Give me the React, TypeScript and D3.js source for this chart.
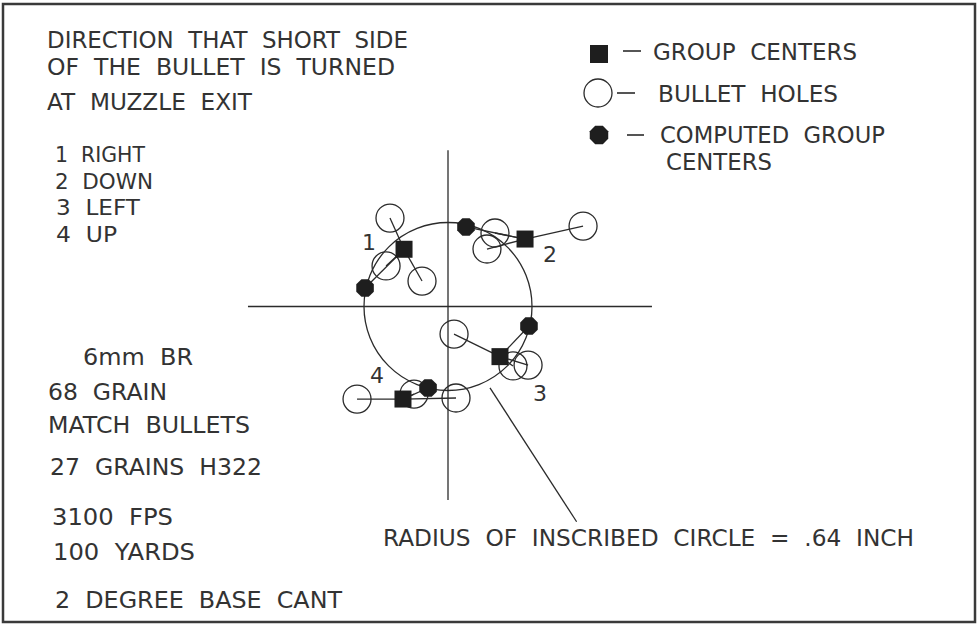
import * as d3 from "d3";

// group numbers (direction of short side at muzzle exit)
const groupIds = ["1", "2", "3", "4"];
// group centres, inches from aim point
const groupCenterX = [-0.335, 0.587, 0.396, -0.343];
const groupCenterY = [0.436, 0.514, -0.382, -0.705];
// computed group centres (on inscribed circle)
const computedX = [-0.632, 0.137, 0.617, -0.152];
const computedY = [0.141, 0.606, -0.149, -0.621];
// bullet holes per group, inches
const holesX = [
  [-0.442, -0.472, -0.198],
  [0.358, 0.297, 1.029],
  [0.046, 0.495, 0.61],
  [-0.693, -0.259, 0.061],
];
const holesY = [
  [0.674, 0.309, 0.194],
  [0.56, 0.438, 0.613],
  [-0.21, -0.453, -0.446],
  [-0.705, -0.667, -0.697],
];
const inscribedRadius = 0.64;

const headerLines = ["DIRECTION  THAT  SHORT  SIDE", "OF  THE  BULLET  IS  TURNED", "AT  MUZZLE  EXIT"];
const directionLines = ["1  RIGHT", "2  DOWN", "3  LEFT", "4  UP"];
const loadLines = ["6mm  BR", "68  GRAIN", "MATCH  BULLETS", "27  GRAINS  H322", "3100  FPS", "100  YARDS", "2  DEGREE  BASE  CANT"];
const legendLabels = ["GROUP  CENTERS", "BULLET  HOLES", "COMPUTED  GROUP", "CENTERS"];
const radiusNote = "RADIUS  OF  INSCRIBED  CIRCLE  =  .64  INCH";

const W = 978, H = 626;
const INK = "#2b2b2b";
const FONT = "'DejaVu Sans', sans-serif";
const PX_PER_INCH = 131.25;
const ORIGIN = { x: 448, y: 306.5 };

// layout of text lines: [x, baseline, width]
const headerLayout = [[47, 48, 361], [47, 75, 348], [47, 110, 205]];
const directionLayout = [[55, 162, 90], [55, 189, 98], [56, 215, 84], [56, 242, 61]];
const loadLayout = [[83, 365, 110], [48, 400, 119], [48, 433, 202], [50, 475, 212], [52, 525, 121], [53, 560, 142], [55, 608, 287]];
const legendLayout = [[653, 60, 204], [658, 102, 180], [660, 143, 225], [666, 170, 106]];
const labelOffset = [[-0.602, 0.43], [0.777, 0.339], [0.701, -0.72], [-0.541, -0.583]];

const octagon = (cx: number, cy: number, r: number) =>
  d3.range(8).map((i) => {
    const a = (Math.PI / 8) + (i * Math.PI) / 4;
    return [cx + r * Math.cos(a), cy + r * Math.sin(a)].join(",");
  }).join(" ");

const TextLine = ({ t, l, size = 23 }: { t: string; l: number[]; size?: number }) => (
  <text x={l[0]} y={l[1]} textLength={l[2]} lengthAdjust="spacingAndGlyphs"
    style={{ whiteSpace: "pre" }} fontFamily={FONT} fontSize={size} fill="#333">{t}</text>
);

export default function App() {
  const x = d3.scaleLinear().domain([0, 1]).range([ORIGIN.x, ORIGIN.x + PX_PER_INCH]);
  const y = d3.scaleLinear().domain([0, 1]).range([ORIGIN.y, ORIGIN.y - PX_PER_INCH]);
  const rPx = x(inscribedRadius) - x(0);

  const groups = groupIds.map((id, g) => {
    const sx = x(groupCenterX[g]), sy = y(groupCenterY[g]);
    const cx = x(computedX[g]), cy = y(computedY[g]);
    return (
      <g key={id}>
        <line x1={sx} y1={sy} x2={cx} y2={cy} stroke={INK} strokeWidth={1.3} />
        {holesX[g].map((hx, i) => (
          <g key={i}>
            <line x1={sx} y1={sy} x2={x(hx)} y2={y(holesY[g][i])} stroke={INK} strokeWidth={1.3} />
            <circle cx={x(hx)} cy={y(holesY[g][i])} r={14} fill="none" stroke={INK} strokeWidth={1.3} />
          </g>
        ))}
        <rect x={sx - 8.5} y={sy - 8.5} width={17} height={17} fill="#1e1e1e" />
        <polygon points={octagon(cx, cy, 9.5)} fill="#1e1e1e" />
        <text x={x(labelOffset[g][0])} y={y(labelOffset[g][1])} textAnchor="middle"
          fontFamily={FONT} fontSize={22} fill="#333">{id}</text>
      </g>
    );
  });

  return (
    <svg width={W} height={H} style={{ position: "absolute", left: 0, top: 0, background: "#fff" }}>
      <rect x={3} y={4} width={972} height={618} fill="#fff" stroke="#3a3a3a" strokeWidth={2.5} />

      {headerLines.map((t, i) => <TextLine key={t} t={t} l={headerLayout[i]} />)}
      {directionLines.map((t, i) => <TextLine key={t} t={t} l={directionLayout[i]} size={22} />)}
      {loadLines.map((t, i) => <TextLine key={t} t={t} l={loadLayout[i]} />)}

      {/* legend */}
      <rect x={590} y={45} width={18} height={18} fill="#1e1e1e" />
      <circle cx={598} cy={93} r={14} fill="none" stroke={INK} strokeWidth={1.3} />
      <polygon points={octagon(599, 135, 10)} fill="#1e1e1e" />
      <line x1={623} x2={641} y1={51} y2={51} stroke={INK} strokeWidth={1.6} />
      <line x1={617} x2={635} y1={93} y2={93} stroke={INK} strokeWidth={1.6} />
      <line x1={627} x2={644} y1={135} y2={135} stroke={INK} strokeWidth={1.6} />
      {legendLabels.map((t, i) => <TextLine key={t + i} t={t} l={legendLayout[i]} />)}

      {/* axes */}
      <line x1={x(-1.524)} x2={x(1.554)} y1={y(0)} y2={y(0)} stroke={INK} strokeWidth={1.3} />
      <line x1={x(0)} x2={x(0)} y1={y(1.19)} y2={y(-1.474)} stroke={INK} strokeWidth={1.3} />

      {/* inscribed circle */}
      <circle cx={x(0)} cy={y(0)} r={rPx} fill="none" stroke={INK} strokeWidth={1.3} />

      {groups}

      {/* leader to note */}
      <line x1={x(0.32)} y1={y(-0.62)} x2={x(0.98)} y2={y(-1.64)} stroke={INK} strokeWidth={1.3} />
      <TextLine t={radiusNote} l={[383, 546, 531]} />
    </svg>
  );
}
